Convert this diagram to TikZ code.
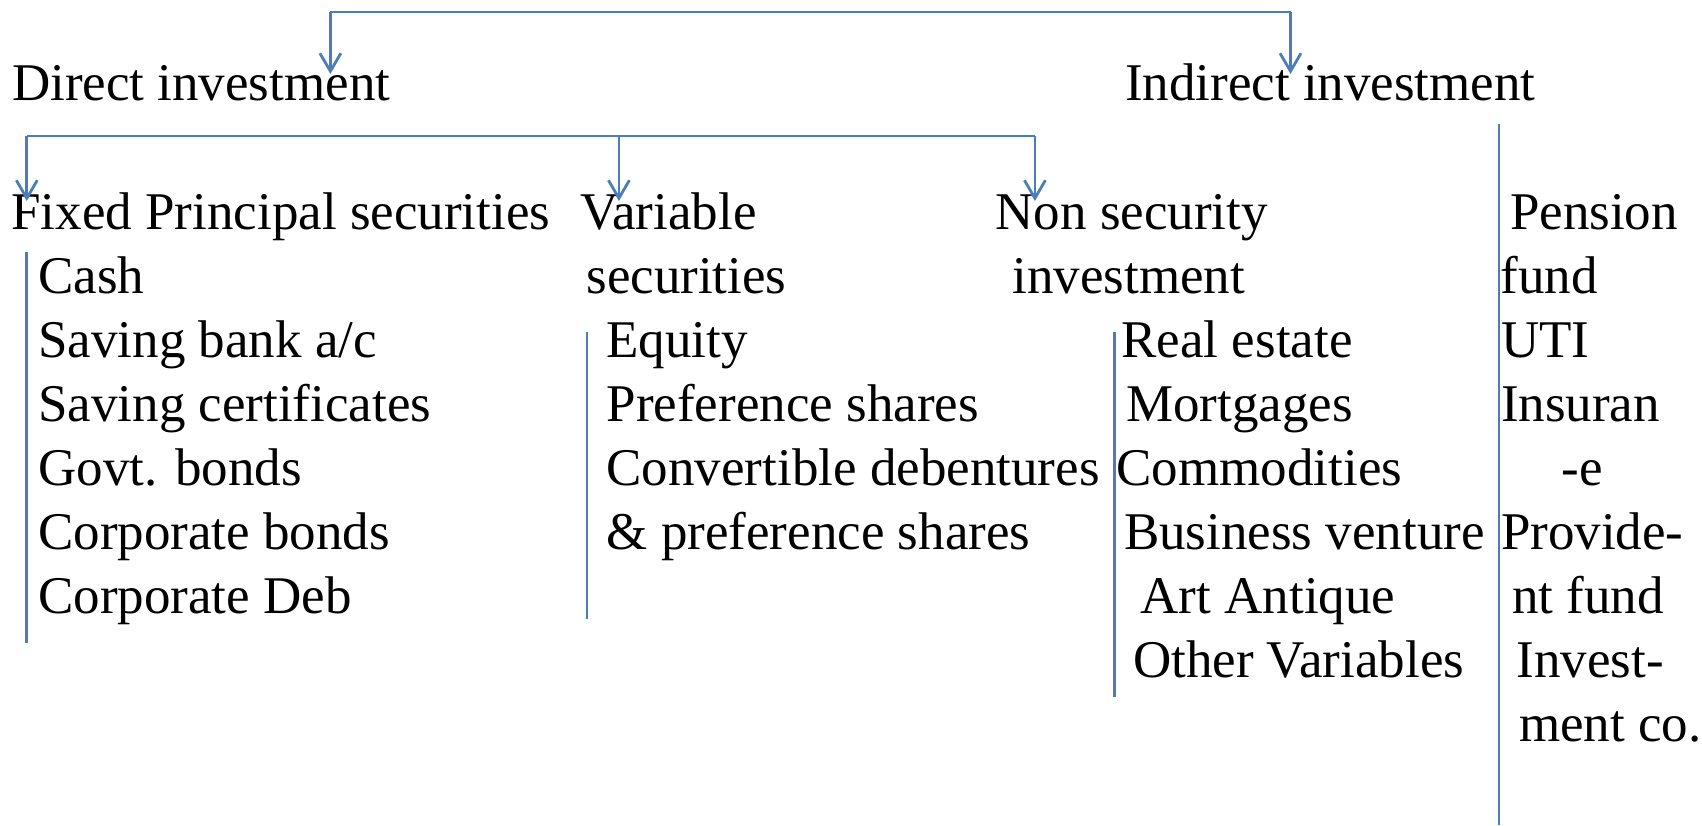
\documentclass[tikz,border=0pt]{standalone}
\usepackage{fontspec}
\setmainfont{Liberation Serif}
\usetikzlibrary{arrows.meta}
\definecolor{lineblue}{RGB}{74,126,187}
\begin{document}
\begin{tikzpicture}[x=0.5pt,y=-0.5pt,
  lbl/.style={anchor=base west,inner sep=0pt,outer sep=0pt,
    font=\fontsize{26.5pt}{31.9pt}\selectfont},
  link/.style={draw=lineblue,line width=1.4pt},
  arr/.style={link,-{Straight Barb[length=9pt,width=10.5pt]}},
  rail/.style={draw=lineblue,line width=1.4pt}]
\useasboundingbox (0,0) rectangle (1702,825);

% top level
\node[lbl] (direct)   at (12,100)   {Direct investment};
\node[lbl] (indirect) at (1125,100) {Indirect investment};

% second level headings
\node[lbl] (fixed) at (11.5,229.3)  {Fixed Principal securities};
\node[lbl] (var1)  at (580,229.3)   {Variable};
\node[lbl] (var2)  at (586.4,293.3) {securities};
\node[lbl] (non1)  at (995.6,229.3) {Non security};
\node[lbl] (non2)  at (1012.4,293.3){investment};
\node[lbl] (pen1)  at (1510,229.3)  {Pension};
\node[lbl] (pen2)  at (1500.6,293.3){fund};

% fixed principal securities
\node[lbl] (fp1) at (38.3,293.3) {Cash};
\node[lbl] (fp2) at (38.3,357.3) {Saving bank a/c};
\node[lbl] (fp3) at (38.3,421.3) {Saving certificates};
\node[lbl] (fp4) at (38.3,485.3) {Govt. bonds};
\node[lbl] (fp5) at (38.3,549.3) {Corporate bonds};
\node[lbl] (fp6) at (38.3,613.3) {Corporate Deb};

% variable securities
\node[lbl] (vs1) at (606.6,357.3) {Equity};
\node[lbl] (vs2) at (606.6,421.3) {Preference shares};
\node[lbl] (vs3) at (606.6,485.3) {Convertible debentures};
\node[lbl] (vs4) at (606.6,549.3) {\& preference shares};

% non security investment
\node[lbl] (ns1) at (1121.5,357.3) {Real estate};
\node[lbl] (ns2) at (1126,421.3)   {Mortgages};
\node[lbl] (ns3) at (1116.5,485.3) {Commodities};
\node[lbl] (ns4) at (1124,549.3)   {Business venture};
\node[lbl] (ns5) at (1140.6,613.3) {Art Antique};
\node[lbl] (ns6) at (1133,677.3)   {Other Variables};

% indirect investment
\node[lbl] (ii1) at (1501,357.3)   {UTI};
\node[lbl] (ii2) at (1501,421.3)   {Insuran};
\node[lbl] (ii3) at (1561.4,485.3) {-e};
\node[lbl] (ii4) at (1501,549.3)   {Provide-};
\node[lbl] (ii5) at (1512,613.3)   {nt fund};
\node[lbl] (ii6) at (1516.5,677.3) {Invest-};
\node[lbl] (ii7) at (1519,741.3)   {ment co.};

% bracket rows and arrow tips
\coordinate (topRow) at (0,12);
\coordinate (midRow) at (0,136);
\coordinate (dTip) at (330.4,74);
\coordinate (iTip) at (1290.5,74);
\coordinate (fTip) at (26.8,201);
\coordinate (vTip) at (618.9,201);
\coordinate (nTip) at (1034.9,201);

% investment split
\draw[link] (dTip |- topRow) -- (iTip |- topRow);
\draw[arr] (dTip |- topRow) -- (dTip);
\draw[arr] (iTip |- topRow) -- (iTip);

% direct investment split
\draw[link] (fTip |- midRow) -- (nTip |- midRow);
\draw[arr] (fTip |- midRow) -- (fTip);
\draw[arr] (vTip |- midRow) -- (vTip);
\draw[arr] (nTip |- midRow) -- (nTip);

% list rails
\coordinate (fpTop) at (26.8,252);   \coordinate (fpBot) at (26.8,643);
\coordinate (vsTop) at (587,332);    \coordinate (vsBot) at (587,619);
\coordinate (nsTop) at (1114.4,332); \coordinate (nsBot) at (1114.4,697);
\coordinate (iiTop) at (1499,124);   \coordinate (iiBot) at (1499,825);
\draw[rail] (fpTop) -- (fpBot);
\draw[rail] (vsTop) -- (vsBot);
\draw[rail] (nsTop) -- (nsBot);
\draw[rail] (iiTop) -- (iiBot);
\end{tikzpicture}
\end{document}
